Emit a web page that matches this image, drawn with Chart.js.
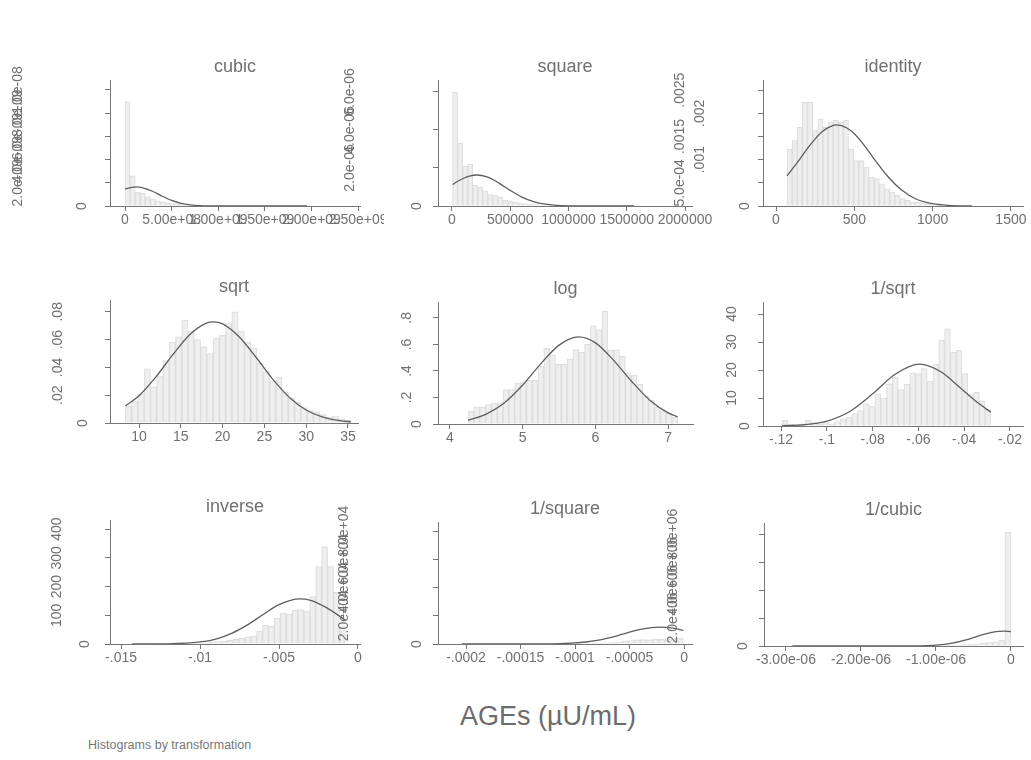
<!DOCTYPE html>
<html>
<head>
<meta charset="utf-8">
<script src="https://cdn.jsdelivr.net/npm/chart.js@4.4.1/dist/chart.umd.min.js"></script>
<style>
  body { margin: 0; background: #fff; width: 1031px; height: 760px; position: relative; overflow: hidden;
         font-family: 'Liberation Sans', Arial, sans-serif; color: #6c6c6c; }
  canvas { position: absolute; }
  #xtitle { position: absolute; left: 348px; width: 400px; top: 701px; text-align: center; font-size: 27px; }
  #note { position: absolute; left: 88px; top: 738px; font-size: 12.5px; color: #777; }
</style>
</head>
<body>
<div id="xtitle">AGEs (µU/mL)</div>
<div id="note">Histograms by transformation</div>
<script>
// panel titles, in reading order
const panelTitles = ['cubic', 'square', 'identity', 'sqrt', 'log', '1/sqrt', 'inverse', '1/square', '1/cubic'];

// cubic
const cubicRange = [343000, 1.953e9];
const cubicBars = [8.97e-9, 2.6e-9, 1.2e-9, 1.1e-9, 0.8e-9, 0.6e-9, 0.45e-9, 0.35e-9, 0.25e-9, 0.2e-9, 0.15e-9, 0.1e-9,
                   0.08e-9, 0.06e-9, 0.05e-9, 0.04e-9, 0.03e-9, 0.02e-9, 0.02e-9, 0.01e-9, 0.01e-9, 0, 0.01e-9, 0,
                   0, 0.01e-9, 0, 0, 0, 0, 0, 0, 0, 0, 0, 0.01e-9];
const cubicCurveX = [343000, 5e7, 1e8, 1.2e8, 2e8, 3e8, 4e8, 5e8, 6e8, 7e8, 8e8, 1e9, 1.2e9, 1.5e9, 1.953e9];
const cubicCurveY = [1.45e-9, 1.57e-9, 1.635e-9, 1.64e-9, 1.55e-9, 1.25e-9, 0.84e-9, 0.48e-9, 0.23e-9, 0.095e-9,
                     0.033e-9, 0.0023e-9, 0, 0, 0];
const cubicXTicks = [0, 5e8, 1e9, 1.5e9, 2e9, 2.5e9];
const cubicXLabels = ['0', '5.00e+08', '1.00e+09', '1.50e+09', '2.00e+09', '2.50e+09'];
const cubicYTicks = [0, 2e-9, 4e-9, 6e-9, 8e-9, 1e-8];
const cubicYLabels = ['0', '2.0e-09', '4.0e-09', '6.0e-09', '8.0e-09', '1.0e-08'];

// square
const squareRange = [4900, 1.5625e6];
const squareBars = [6.0e-6, 3.3e-6, 2.1e-6, 2.2e-6, 1.1e-6, 1.0e-6, 0.8e-6, 0.6e-6, 0.55e-6, 0.45e-6, 0.3e-6, 0.25e-6,
                    0.2e-6, 0.15e-6, 0.12e-6, 0.1e-6, 0.08e-6, 0.05e-6, 0.05e-6, 0.03e-6, 0.03e-6, 0.02e-6, 0.02e-6, 0.01e-6,
                    0.01e-6, 0, 0.01e-6, 0, 0, 0, 0.01e-6, 0, 0, 0, 0, 0.01e-6];
const squareCurveX = [4900, 5e4, 1e5, 1.5e5, 2.14e5, 3e5, 4e5, 5e5, 6e5, 7e5, 8e5, 9e5, 1e6, 1.2e6, 1.5625e6];
const squareCurveY = [1.13e-6, 1.30e-6, 1.46e-6, 1.575e-6, 1.63e-6, 1.53e-6, 1.22e-6, 0.82e-6, 0.47e-6, 0.23e-6,
                      0.093e-6, 0.032e-6, 0.0095e-6, 0.0005e-6, 0];
const squareXTicks = [0, 5e5, 1e6, 1.5e6, 2e6];
const squareXLabels = ['0', '500000', '1000000', '1500000', '2000000'];
const squareYTicks = [0, 2e-6, 4e-6, 6e-6];
const squareYLabels = ['0', '2.0e-06', '4.0e-06', '6.0e-06'];

// identity
const identityRange = [70, 1250];
const identityBars = [1.23e-3, 1.41e-3, 1.70e-3, 2.24e-3, 2.24e-3, 1.63e-3, 1.88e-3, 1.70e-3, 1.81e-3, 1.85e-3, 1.81e-3, 1.85e-3,
                      1.23e-3, 0.98e-3, 0.98e-3, 0.84e-3, 0.62e-3, 0.59e-3, 0.48e-3, 0.37e-3, 0.30e-3, 0.23e-3, 0.16e-3, 0.12e-3,
                      0.09e-3, 0.08e-3, 0.05e-3, 0.05e-3, 0.03e-3, 0.03e-3, 0, 0.014e-3, 0, 0.014e-3, 0, 0.014e-3];
const identityCurveX = [70, 100, 150, 200, 250, 300, 350, 390, 450, 500, 550, 600, 650, 700, 800, 900, 1000, 1100, 1250];
const identityCurveY = [0.65e-3, 0.78e-3, 1.0e-3, 1.24e-3, 1.45e-3, 1.62e-3, 1.72e-3, 1.75e-3, 1.69e-3, 1.56e-3, 1.37e-3,
                        1.14e-3, 0.91e-3, 0.69e-3, 0.35e-3, 0.14e-3, 0.049e-3, 0.014e-3, 0.0015e-3];
const identityXTicks = [0, 500, 1000, 1500];
const identityXLabels = ['0', '500', '1000', '1500'];
const identityYTicks = [0, 5e-4, 0.001, 0.0015, 0.002, 0.0025];
const identityYLabels = ['0', '5.0e-04', '.001', '.0015', '.002', '.0025'];

// sqrt
const sqrtRange = [8.37, 35.36];
const sqrtBars = [0.012, 0.016, 0.021, 0.039, 0.026, 0.034, 0.045, 0.058, 0.062, 0.074, 0.066, 0.060,
                  0.055, 0.050, 0.061, 0.063, 0.072, 0.080, 0.066, 0.058, 0.054, 0.043, 0.037, 0.030,
                  0.033, 0.022, 0.018, 0.015, 0.011, 0.009, 0.008, 0.006, 0.004, 0.005, 0.003, 0.002];
const sqrtCurveX = [8.37, 10, 12, 14, 16, 18, 18.9, 20, 22, 24, 26, 28, 30, 32, 34, 35.36];
const sqrtCurveY = [0.0122, 0.0196, 0.0330, 0.0488, 0.0632, 0.0717, 0.0727, 0.0713, 0.0619, 0.0473, 0.0316, 0.0184,
                    0.0094, 0.0042, 0.0017, 0.0008];
const sqrtXTicks = [10, 15, 20, 25, 30, 35];
const sqrtXLabels = ['10', '15', '20', '25', '30', '35'];
const sqrtYTicks = [0, 0.02, 0.04, 0.06, 0.08];
const sqrtYLabels = ['0', '.02', '.04', '.06', '.08'];

// log
const logRange = [4.25, 7.13];
const logBars = [0.096, 0.13, 0.13, 0.146, 0.16, 0.16, 0.26, 0.26, 0.31, 0.31, 0.33, 0.33,
                 0.435, 0.57, 0.52, 0.45, 0.45, 0.49, 0.56, 0.54, 0.60, 0.74, 0.71, 0.85,
                 0.56, 0.56, 0.51, 0.385, 0.37, 0.30, 0.21, 0.18, 0.13, 0.10, 0.08, 0.05];
const logCurveX = [4.25, 4.5, 4.75, 5.0, 5.25, 5.5, 5.77, 6.0, 6.25, 6.5, 6.75, 7.0, 7.13];
const logCurveY = [0.028, 0.074, 0.160, 0.294, 0.455, 0.595, 0.657, 0.612, 0.480, 0.319, 0.178, 0.084, 0.055];
const logXTicks = [4, 5, 6, 7];
const logXLabels = ['4', '5', '6', '7'];
const logYTicks = [0, 0.2, 0.4, 0.6, 0.8];
const logYLabels = ['0', '.2', '.4', '.6', '.8'];

// 1/sqrt
const invSqrtRange = [-0.1195, -0.0283];
const invSqrtBars = [2.0, 0.5, 0, 0.8, 2.0, 1.2, 0.6, 1.4, 0.8, 1.6, 2.4, 3.2,
                     4.4, 5.5, 8.0, 7.0, 11.5, 10.0, 15.0, 17.5, 13.0, 15.0, 19.0, 18.7,
                     20.5, 16.0, 22.0, 30.6, 34.7, 26.4, 27.0, 18.7, 11.5, 12.0, 9.0, 6.0];
const invSqrtCurveX = [-0.1195, -0.11, -0.10, -0.09, -0.08, -0.07, -0.0594, -0.05, -0.045, -0.04, -0.035, -0.0283];
const invSqrtCurveY = [0.09, 0.44, 1.76, 5.2, 11.5, 18.6, 22.1, 19.3, 16.0, 12.4, 8.9, 4.9];
const invSqrtXTicks = [-0.12, -0.1, -0.08, -0.06, -0.04, -0.02];
const invSqrtXLabels = ['-.12', '-.1', '-.08', '-.06', '-.04', '-.02'];
const invSqrtYTicks = [0, 10, 20, 30, 40];
const invSqrtYLabels = ['0', '10', '20', '30', '40'];

// inverse
const inverseRange = [-0.01429, -0.0008];
const inverseBars = [0.5, 0, 0, 0.5, 0, 0.5, 0.5, 1, 1, 1.5, 2, 3,
                     4, 6, 8, 10, 13, 16, 20, 25, 28, 45, 66, 62,
                     90, 107, 105, 118, 120, 115, 165, 270, 339, 270, 180, 60];
const inverseCurveX = [-0.01429, -0.012, -0.010, -0.009, -0.008, -0.007, -0.006, -0.005, -0.0037, -0.003, -0.002, -0.0008];
const inverseCurveY = [0.01, 0.72, 7.1, 17.3, 37, 66.6, 103, 137, 157, 152, 126.5, 83];
const inverseXTicks = [-0.015, -0.01, -0.005, 0];
const inverseXLabels = ['-.015', '-.01', '-.005', '0'];
const inverseYTicks = [0, 100, 200, 300, 400];
const inverseYLabels = ['0', '100', '200', '300', '400'];

// 1/square
const invSquareRange = [-2.04e-4, -6.4e-7];
const invSquareBars = [0, 0, 0, 0, 0, 0, 0, 0, 0, 0, 0, 0,
                       0, 0, 0, 0, 0, 0, 200, 0, 300, 400, 500, 800,
                       1000, 1500, 2000, 2500, 3000, 3200, 3000, 3500, 3300, 3600, 3800, 4000];
const invSquareCurveX = [-2.04e-4, -1.5e-4, -1.2e-4, -1e-4, -9e-5, -8e-5, -7e-5, -6e-5, -5e-5, -4e-5, -3e-5, -2.2e-5, -1e-5, -6.4e-7];
const invSquareCurveY = [0, 6, 147, 740, 1430, 2540, 4200, 6200, 8400, 10300, 11660, 12000, 11260, 9700];
const invSquareXTicks = [-2e-4, -1.5e-4, -1e-4, -5e-5, 0];
const invSquareXLabels = ['-.0002', '-.00015', '-.0001', '-.00005', '0'];
const invSquareYTicks = [0, 2e4, 4e4, 6e4, 8e4];
const invSquareYLabels = ['0', '2.0e+04', '4.0e+04', '6.0e+04', '8.0e+04'];

// 1/cubic
const invCubicRange = [-2.915e-6, -5e-10];
const invCubicBars = [0, 0, 0, 0, 0, 0, 0, 0, 0, 0, 0, 0,
                      0, 0, 0, 0, 0, 0, 0, 0, 0, 0, 0, 0,
                      0, 50000, 60000, 80000, 100000, 120000, 150000, 200000, 250000, 300000, 400000, 8.14e6];
const invCubicCurveX = [-2.915e-6, -2e-6, -1.5e-6, -1.2e-6, -1e-6, -8e-7, -6e-7, -4e-7, -2e-7, -1e-7, -5e-10];
const invCubicCurveY = [0, 0, 960, 13800, 59000, 183000, 435000, 777000, 1031000, 1070000, 1031000];
const invCubicXTicks = [-3e-6, -2e-6, -1e-6, 0];
const invCubicXLabels = ['-3.00e-06', '-2.00e-06', '-1.00e-06', '0'];
const invCubicYTicks = [0, 2e6, 4e6, 6e6, 8e6];
const invCubicYLabels = ['0', '2.0e+06', '4.0e+06', '6.0e+06', '8.0e+06'];

// layout: plot rectangle [left, top, right, bottom] on the page, axis ranges, y label offsets
const layout = [
  { rect: [110, 80, 360, 206], xr: [-1.61e8, 2.52e9], ymax: 1.086e-8, yOff: [28, 92, 92, 92, 92, 92] },
  { rect: [438, 80, 692, 206], xr: [-1.2e5, 2.06e6], ymax: 6.63e-6, yOff: [21, 88, 88, 88] },
  { rect: [763, 80, 1023, 206], xr: [-83, 1577], ymax: 2.72e-3, yOff: [18, 83, 63, 83, 63, 83] },
  { rect: [110, 300, 358, 423], xr: [6.53, 36.2], ymax: 0.0885, yOff: [27, 52, 52, 52, 52] },
  { rect: [438, 302, 693, 424], xr: [3.836, 7.34], ymax: 0.92, yOff: [21, 31, 31, 31, 31] },
  { rect: [763, 302, 1023, 426], xr: [-0.1279, -0.0143], ymax: 44.3, yOff: [18, 31, 31, 31, 31] },
  { rect: [110, 520, 360, 644], xr: [-0.0157, 0.000127], ymax: 432, yOff: [25, 53, 53, 53, 53] },
  { rect: [438, 522, 692, 644], xr: [-2.257e-4, 7.3e-6], ymax: 86500, yOff: [21, 94, 94, 94, 94] },
  { rect: [764, 523, 1023, 646], xr: [-3.293e-6, 1.6e-7], ymax: 8.8e6, yOff: [21, 91, 91, 91, 91] }
];

const panels = [
  { bars: cubicBars, range: cubicRange, cx: cubicCurveX, cy: cubicCurveY, xt: cubicXTicks, xl: cubicXLabels, yt: cubicYTicks, yl: cubicYLabels },
  { bars: squareBars, range: squareRange, cx: squareCurveX, cy: squareCurveY, xt: squareXTicks, xl: squareXLabels, yt: squareYTicks, yl: squareYLabels },
  { bars: identityBars, range: identityRange, cx: identityCurveX, cy: identityCurveY, xt: identityXTicks, xl: identityXLabels, yt: identityYTicks, yl: identityYLabels },
  { bars: sqrtBars, range: sqrtRange, cx: sqrtCurveX, cy: sqrtCurveY, xt: sqrtXTicks, xl: sqrtXLabels, yt: sqrtYTicks, yl: sqrtYLabels },
  { bars: logBars, range: logRange, cx: logCurveX, cy: logCurveY, xt: logXTicks, xl: logXLabels, yt: logYTicks, yl: logYLabels },
  { bars: invSqrtBars, range: invSqrtRange, cx: invSqrtCurveX, cy: invSqrtCurveY, xt: invSqrtXTicks, xl: invSqrtXLabels, yt: invSqrtYTicks, yl: invSqrtYLabels },
  { bars: inverseBars, range: inverseRange, cx: inverseCurveX, cy: inverseCurveY, xt: inverseXTicks, xl: inverseXLabels, yt: inverseYTicks, yl: inverseYLabels },
  { bars: invSquareBars, range: invSquareRange, cx: invSquareCurveX, cy: invSquareCurveY, xt: invSquareXTicks, xl: invSquareXLabels, yt: invSquareYTicks, yl: invSquareYLabels },
  { bars: invCubicBars, range: invCubicRange, cx: invCubicCurveX, cy: invCubicCurveY, xt: invCubicXTicks, xl: invCubicXLabels, yt: invCubicYTicks, yl: invCubicYLabels }
];

const FONT = "'Liberation Sans', Arial, sans-serif";
const AXIS = '#767676';
const TEXT = '#707070';
const LEFT = 110, RIGHT = 24, TOP = 28, BOTTOM = 30;

panels.forEach((p, k) => {
  const g = layout[k];
  const [L, T, R, B] = g.rect;
  const w = R - L + LEFT + RIGHT;
  const h = B - T + TOP + BOTTOM;
  const cv = document.createElement('canvas');
  cv.width = w; cv.height = h;
  cv.style.left = (L - LEFT) + 'px';
  cv.style.top = (T - TOP) + 'px';
  cv.style.width = w + 'px';
  cv.style.height = h + 'px';
  document.body.appendChild(cv);

  // histogram bins spread evenly over the data range
  const bw = (p.range[1] - p.range[0]) / p.bars.length;
  const barData = p.bars.map((v, i) => ({ x: p.range[0] + (i + 0.5) * bw, y: v }));
  const curveData = p.cx.map((x, i) => ({ x: x, y: p.cy[i] }));

  // Stata style rotated y labels
  const yLabels = {
    id: 'yLabels' + k,
    afterDraw(chart) {
      const ys = chart.scales.y, ctx = chart.ctx;
      ctx.save();
      ctx.font = '14px ' + FONT;
      ctx.fillStyle = TEXT;
      ctx.textAlign = 'center';
      ctx.textBaseline = 'middle';
      p.yt.forEach((v, i) => {
        ctx.save();
        ctx.translate(chart.chartArea.left - g.yOff[i], ys.getPixelForValue(v));
        ctx.rotate(-Math.PI / 2);
        ctx.fillText(p.yl[i], 0, 0);
        ctx.restore();
      });
      ctx.restore();
    }
  };

  new Chart(cv, {
    type: 'bar',
    data: {
      datasets: [
        {
          type: 'line',
          data: curveData,
          borderColor: '#5e5e5e',
          borderWidth: 1.3,
          pointRadius: 0,
          cubicInterpolationMode: 'monotone',
          order: 0
        },
        {
          type: 'bar',
          data: barData,
          backgroundColor: 'rgba(236,236,236,0.85)',
          borderColor: 'rgba(214,214,214,0.8)',
          borderWidth: 1,
          barPercentage: 1,
          categoryPercentage: 1,
          grouped: false,
          order: 1
        }
      ]
    },
    options: {
      responsive: false,
      devicePixelRatio: 1,
      animation: false,
      layout: { padding: { left: 0, right: RIGHT, top: 0, bottom: 0 } },
      plugins: {
        legend: { display: false },
        tooltip: { enabled: false },
        title: {
          display: true,
          text: panelTitles[k],
          fullSize: false,
          color: TEXT,
          font: { family: FONT, size: 18, weight: 'normal' },
          padding: { top: 4, bottom: 2.4 }
        }
      },
      scales: {
        x: {
          type: 'linear',
          min: g.xr[0],
          max: g.xr[1],
          offset: false,
          afterBuildTicks: s => { s.ticks = p.xt.map(v => ({ value: v })); },
          afterFit: s => { s.height = BOTTOM; s.paddingLeft = 0; s.paddingRight = 0; },
          grid: { drawOnChartArea: false, drawTicks: true, tickLength: 5, color: AXIS, offset: false },
          border: { display: true, color: AXIS, width: 1 },
          ticks: {
            autoSkip: false, maxRotation: 0, minRotation: 0, padding: 1,
            color: TEXT, font: { family: FONT, size: 14 },
            callback: (v, i) => p.xl[i]
          }
        },
        y: {
          type: 'linear',
          min: 0,
          max: g.ymax,
          afterBuildTicks: s => { s.ticks = p.yt.map(v => ({ value: v })); },
          afterFit: s => { s.width = LEFT; s.paddingTop = 0; s.paddingBottom = 0; },
          grid: { drawOnChartArea: false, drawTicks: true, tickLength: 5, color: AXIS },
          border: { display: true, color: AXIS, width: 1 },
          ticks: { display: false }
        }
      }
    },
    plugins: [yLabels]
  });
});
</script>
</body>
</html>
